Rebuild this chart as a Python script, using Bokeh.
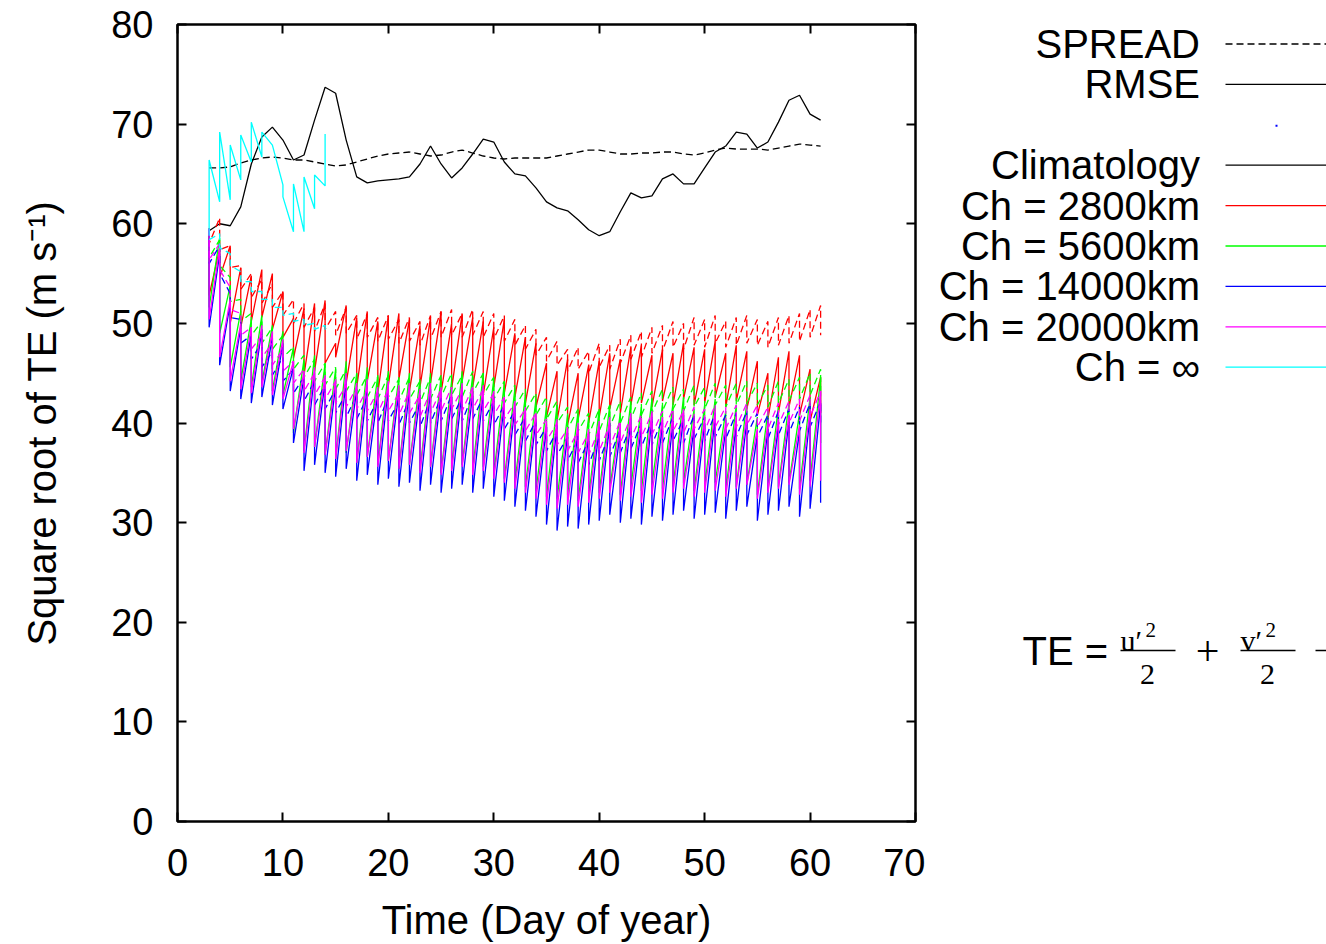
from bokeh.plotting import figure
from bokeh.layouts import row
from bokeh.models import Range1d, LinearAxis, FixedTicker
from bokeh.core.properties import value
from bokeh.embed import file_html
from bokeh.resources import INLINE

# ---------------- data ----------------
days = list(range(3, 62))          # day of year, one analysis per day
inf_days = list(range(3, 15))      # Ch = infinity run stops at day 14

x_ticks = [0, 10, 20, 30, 40, 50, 60, 70]
y_ticks = [0, 10, 20, 30, 40, 50, 60, 70, 80]

clim_rmse = [59.3, 60.0, 59.8, 61.7, 66.0, 68.7, 69.7, 68.4, 66.4, 66.9,
             70.4, 73.7, 73.1, 68.4, 64.7, 64.1, 64.3, 64.4, 64.5, 64.7,
             66.0, 67.8, 66.0, 64.6, 65.6, 67.0, 68.5, 68.2, 66.2, 65.0,
             64.8, 63.6, 62.2, 61.6, 61.3, 60.4, 59.4, 58.8, 59.2, 61.2,
             63.1, 62.6, 62.8, 64.5, 65.0, 64.0, 64.0, 65.6, 67.2, 67.8,
             69.2, 69.0, 67.6, 68.2, 70.2, 72.4, 72.9, 71.0, 70.4]
clim_spread = [65.6, 65.6, 65.7, 66.1, 66.4, 66.6, 66.7, 66.6, 66.4, 66.4,
               66.2, 66.0, 65.8, 65.9, 66.2, 66.5, 66.8, 67.0, 67.1, 67.2,
               67.0, 66.8, 66.9, 67.2, 67.4, 67.1, 66.8, 66.6, 66.5, 66.6,
               66.6, 66.6, 66.6, 66.8, 67.0, 67.2, 67.4, 67.4, 67.2, 67.0,
               67.0, 67.1, 67.1, 67.2, 67.2, 67.0, 66.9, 67.1, 67.4, 67.6,
               67.5, 67.5, 67.5, 67.4, 67.6, 67.8, 68.0, 67.9, 67.8]

# forecast (before analysis) and analysis values each day
red_rmse_f = [59.5, 57.5, 57.8, 55.6, 54.8, 55.4, 55.0, 53.2, 50.5, 51.5,
              52.0, 52.3, 48.0, 51.8, 50.6, 51.2, 50.2, 50.8, 51.0, 50.4,
              49.8, 50.6, 51.2, 50.0, 51.0, 50.6, 50.2, 49.6, 50.4, 49.0,
              48.6, 48.0, 46.0, 45.2, 46.4, 45.0, 45.8, 46.2, 47.0, 46.4,
              47.6, 47.8, 46.8, 47.4, 47.0, 48.0, 47.6, 47.4, 48.2, 47.0,
              47.8, 47.2, 46.2, 45.0, 46.6, 47.2, 46.8, 45.4, 44.6]
red_rmse_a = [52.8, 54.6, 50.0, 49.6, 50.2, 50.6, 49.4, 48.6, 46.5, 44.8,
              45.2, 46.0, 46.6, 44.0, 43.6, 44.2, 43.0, 43.8, 44.4, 43.2,
              43.6, 44.0, 43.0, 43.4, 44.2, 43.6, 42.8, 43.6, 43.0, 42.6,
              42.0, 41.6, 40.6, 40.2, 39.8, 40.4, 40.0, 40.6, 41.4, 41.0,
              41.8, 42.0, 41.6, 42.2, 41.8, 42.4, 41.8, 42.0, 42.6, 41.6,
              42.2, 41.4, 40.8, 40.4, 41.0, 41.6, 40.8, 40.2, 41.0]
red_spread_f = [59.5, 60.6, 57.8, 55.8, 55.0, 54.4, 54.0, 53.2, 52.4, 52.0,
                51.6, 52.0, 51.2, 51.6, 50.8, 51.0, 50.6, 50.8, 50.4, 50.6,
                50.2, 50.8, 51.2, 51.4, 51.0, 51.4, 51.2, 51.0, 50.8, 50.4,
                49.8, 49.4, 48.6, 48.2, 47.4, 47.6, 47.2, 48.0, 47.8, 48.4,
                48.8, 49.2, 49.6, 49.8, 50.2, 50.0, 50.6, 50.4, 50.8, 50.2,
                50.6, 50.8, 50.4, 50.2, 50.6, 50.8, 51.0, 51.4, 51.8]
red_spread_a = [58.0, 57.4, 55.6, 53.4, 52.6, 52.0, 51.6, 50.8, 50.0, 49.6,
                49.2, 49.4, 48.8, 49.0, 48.4, 48.6, 48.2, 48.4, 48.0, 48.2,
                47.8, 48.4, 48.6, 48.8, 48.6, 48.8, 48.6, 48.4, 48.2, 47.8,
                47.4, 46.8, 46.2, 45.8, 45.2, 45.4, 45.0, 45.6, 45.4, 46.0,
                46.4, 46.6, 47.0, 47.2, 47.6, 47.4, 47.8, 47.6, 48.0, 47.6,
                47.8, 48.0, 47.8, 47.6, 47.8, 48.0, 48.2, 48.6, 48.8]

green_rmse_f = [59.5, 58.6, 53.8, 51.2, 50.4, 50.8, 49.8, 49.2, 47.6, 46.4,
                46.8, 46.0, 45.4, 46.2, 45.0, 45.6, 44.8, 45.2, 44.6, 45.0,
                44.4, 45.0, 44.6, 44.2, 45.2, 44.8, 45.0, 44.4, 44.0, 43.4,
                42.8, 42.4, 41.6, 41.8, 40.8, 41.2, 40.6, 41.4, 41.8, 41.0,
                42.2, 41.6, 42.4, 41.8, 42.0, 42.6, 41.4, 41.8, 42.4, 41.2,
                41.8, 42.0, 40.6, 41.2, 41.6, 42.0, 41.0, 42.6, 44.6]
green_rmse_a = [51.6, 49.0, 45.6, 44.2, 43.6, 44.0, 43.2, 42.8, 39.0, 37.2,
                37.6, 36.8, 36.4, 37.0, 36.0, 36.6, 35.8, 36.2, 35.4, 35.8,
                35.2, 35.6, 35.0, 35.4, 35.8, 35.2, 35.6, 34.8, 34.4, 34.0,
                33.6, 33.2, 32.6, 32.4, 32.8, 32.2, 32.6, 33.0, 33.4, 32.8,
                33.6, 33.2, 33.8, 33.4, 33.6, 34.0, 33.2, 33.6, 34.0, 33.2,
                33.6, 33.8, 32.8, 33.2, 33.6, 34.0, 33.4, 34.2, 38.0]
green_spread_f = [59.5, 58.4, 54.6, 52.4, 51.0, 50.2, 49.6, 48.8, 47.6, 46.8,
                  46.4, 46.0, 45.6, 45.4, 45.0, 44.8, 44.6, 44.8, 44.4, 44.6,
                  44.2, 44.6, 44.8, 45.0, 44.8, 45.2, 45.0, 44.6, 44.2, 43.8,
                  43.4, 43.0, 42.6, 42.2, 41.6, 41.4, 41.0, 41.4, 41.8, 42.2,
                  42.6, 43.0, 43.2, 43.4, 43.6, 43.4, 43.8, 43.6, 44.0, 43.8,
                  44.0, 44.2, 44.0, 43.8, 44.2, 44.4, 44.6, 45.0, 45.4]
green_spread_a = [56.6, 55.8, 52.2, 50.2, 48.8, 48.0, 47.4, 46.6, 45.4, 44.6,
                  44.2, 43.8, 43.4, 43.2, 42.8, 42.6, 42.4, 42.6, 42.2, 42.4,
                  42.0, 42.4, 42.6, 42.8, 42.6, 43.0, 42.8, 42.4, 42.0, 41.6,
                  41.2, 40.8, 40.4, 40.0, 39.4, 39.2, 38.8, 39.2, 39.6, 40.0,
                  40.4, 40.8, 41.0, 41.2, 41.4, 41.2, 41.6, 41.4, 41.8, 41.6,
                  41.8, 42.0, 41.8, 41.6, 42.0, 42.2, 42.4, 42.8, 43.2]

blue_rmse_f = [59.5, 57.0, 52.0, 49.6, 49.0, 49.4, 48.6, 48.0, 45.6, 44.6,
               45.0, 44.2, 43.8, 44.4, 43.4, 43.8, 43.0, 43.6, 43.2, 43.4,
               42.8, 43.4, 43.0, 42.6, 43.4, 43.0, 43.2, 42.6, 42.0, 41.6,
               41.0, 40.4, 39.6, 39.8, 39.0, 39.4, 38.8, 39.6, 40.0, 39.2,
               40.4, 39.8, 40.6, 40.0, 40.2, 40.8, 39.6, 40.0, 40.6, 39.4,
               40.0, 40.2, 38.8, 39.4, 39.8, 40.2, 39.2, 40.8, 42.0]
blue_rmse_a = [49.6, 45.8, 43.2, 42.4, 42.0, 42.6, 41.8, 41.4, 38.0, 35.2,
               35.8, 35.0, 34.6, 35.4, 34.2, 34.8, 33.8, 34.4, 33.6, 34.0,
               33.2, 33.8, 33.0, 33.4, 33.8, 33.0, 33.4, 32.6, 32.2, 31.6,
               31.2, 30.6, 29.8, 29.2, 29.6, 29.4, 29.8, 30.2, 30.8, 30.0,
               30.4, 29.8, 30.6, 30.2, 30.8, 31.2, 30.4, 30.8, 31.0, 30.4,
               31.2, 31.6, 30.2, 30.8, 31.2, 31.6, 30.6, 31.4, 32.0]
blue_spread_f = [59.5, 57.8, 53.0, 50.4, 48.8, 48.0, 47.2, 46.6, 45.4, 44.6,
                 44.2, 43.8, 43.4, 43.0, 42.8, 42.6, 42.4, 42.6, 42.2, 42.4,
                 42.0, 42.4, 42.6, 42.8, 42.6, 42.8, 42.6, 42.2, 41.8, 41.2,
                 40.6, 40.2, 39.6, 39.2, 38.6, 38.4, 38.2, 38.6, 39.0, 39.4,
                 39.8, 40.0, 40.2, 40.4, 40.6, 40.4, 40.8, 40.6, 41.0, 40.8,
                 41.0, 41.2, 41.0, 40.8, 41.2, 41.4, 41.6, 42.0, 42.2]
blue_spread_a = [56.0, 55.0, 50.6, 48.0, 46.4, 45.6, 44.8, 44.2, 43.0, 42.2,
                 41.8, 41.4, 41.0, 40.6, 40.4, 40.2, 40.0, 40.2, 39.8, 40.0,
                 39.6, 40.0, 40.2, 40.4, 40.2, 40.4, 40.2, 39.8, 39.4, 38.8,
                 38.2, 37.8, 37.2, 36.8, 36.2, 36.0, 35.8, 36.2, 36.6, 37.0,
                 37.4, 37.6, 37.8, 38.0, 38.2, 38.0, 38.4, 38.2, 38.6, 38.4,
                 38.6, 38.8, 38.6, 38.4, 38.8, 39.0, 39.2, 39.6, 39.8]

magenta_rmse_f = [59.5, 57.6, 52.4, 50.0, 49.6, 49.8, 49.2, 48.4, 46.2, 45.2,
                  45.6, 44.8, 44.4, 45.0, 44.0, 44.4, 43.6, 44.2, 43.8, 44.0,
                  43.4, 44.0, 43.6, 43.2, 44.0, 43.6, 43.8, 43.2, 42.6, 42.2,
                  41.6, 41.0, 40.2, 40.4, 39.6, 40.0, 39.4, 40.2, 40.6, 39.8,
                  41.0, 40.4, 41.2, 40.6, 40.8, 41.4, 40.2, 40.6, 41.2, 40.0,
                  40.6, 40.8, 39.4, 40.0, 40.4, 40.8, 39.8, 41.4, 43.2]
magenta_rmse_a = [50.4, 46.6, 44.2, 43.4, 43.0, 43.6, 42.8, 42.4, 39.4, 37.0,
                  37.6, 36.8, 36.4, 37.2, 36.0, 36.6, 35.6, 36.2, 35.4, 35.8,
                  35.0, 35.6, 34.8, 35.2, 35.6, 34.8, 35.2, 34.4, 34.0, 33.4,
                  33.0, 32.4, 31.8, 31.4, 31.8, 31.6, 32.0, 32.4, 33.0, 32.2,
                  32.6, 32.0, 32.8, 32.4, 33.0, 33.4, 32.6, 33.0, 33.2, 32.6,
                  33.4, 33.8, 32.4, 33.0, 33.4, 33.8, 32.8, 33.6, 34.2]
magenta_spread_f = [59.5, 58.0, 53.6, 51.0, 49.6, 48.8, 48.0, 47.4, 46.2, 45.4,
                    45.0, 44.6, 44.2, 43.8, 43.6, 43.4, 43.2, 43.4, 43.0, 43.2,
                    42.8, 43.2, 43.4, 43.6, 43.4, 43.6, 43.4, 43.0, 42.6, 42.0,
                    41.4, 41.0, 40.4, 40.0, 39.4, 39.2, 39.0, 39.4, 39.8, 40.2,
                    40.6, 40.8, 41.0, 41.2, 41.4, 41.2, 41.6, 41.4, 41.8, 41.6,
                    41.8, 42.0, 41.8, 41.6, 42.0, 42.2, 42.4, 42.8, 43.2]
magenta_spread_a = [56.4, 55.4, 51.4, 48.8, 47.4, 46.6, 45.8, 45.2, 44.0, 43.2,
                    42.8, 42.4, 42.0, 41.6, 41.4, 41.2, 41.0, 41.2, 40.8, 41.0,
                    40.6, 41.0, 41.2, 41.4, 41.2, 41.4, 41.2, 40.8, 40.4, 39.8,
                    39.2, 38.8, 38.2, 37.8, 37.2, 37.0, 36.8, 37.2, 37.6, 38.0,
                    38.4, 38.6, 38.8, 39.0, 39.2, 39.0, 39.4, 39.2, 39.6, 39.4,
                    39.6, 39.8, 39.6, 39.4, 39.8, 40.0, 40.2, 40.6, 41.0]

inf_rmse_f = [59.5, 62.2, 62.4, 64.4, 66.2, 66.7, 67.9, 63.9, 59.2, 59.2, 61.5, 63.8]
inf_rmse_a = [66.4, 69.2, 67.9, 68.9, 70.2, 69.2, 67.9, 62.7, 64.0, 64.7, 64.9, 69.0]
inf_spread_f = [59.5, 59.0, 57.0, 55.2, 54.2, 53.2, 52.4, 51.6, 51.0, 50.4, 50.0, 49.8]
inf_spread_a = [58.4, 57.6, 55.8, 54.2, 53.2, 52.4, 51.6, 50.8, 50.2, 49.8, 49.4, 49.2]

legend_labels = ["SPREAD", "RMSE", "", "Climatology", "Ch = 2800km", "Ch = 5600km",
                 "Ch = 14000km", "Ch = 20000km", "Ch = \u221e"]
legend_colors = ["black", "black", None, "black", "#ff0000", "#00ff00",
                 "#0000ff", "#ff00ff", "#00ffff"]
legend_dashes = ["7 4", "solid", None, "solid", "solid", "solid", "solid", "solid", "solid"]

# ---------------- styling ----------------
FONT = "Liberation Sans"
SERIF = "Liberation Serif"
FS = "40px"
TICK_FS = "38px"
LW = 1.3
DASH = "7 4"


def sawtooth(dlist, f, a):
    xs, ys = [], []
    for d, fv, av in zip(dlist, f, a):
        xs += [d, d]
        ys += [fv, av]
    return xs, ys


p = figure(frame_width=738, frame_height=797,
           x_range=Range1d(0, 70), y_range=Range1d(0, 80),
           output_backend="svg", toolbar_location=None,
           min_border_left=177, min_border_top=24,
           min_border_right=10, min_border_bottom=123)
p.xgrid.grid_line_color = None
p.ygrid.grid_line_color = None
p.outline_line_color = "black"
p.outline_line_width = 2.5
p.outline_line_alpha = 1.0
p.background_fill_color = "white"
p.border_fill_color = "white"

p.add_layout(LinearAxis(), "right")
p.add_layout(LinearAxis(), "above")

bottom_ax = p.below[0]
left_ax = p.left[0]
right_ax = p.right[0]
top_ax = p.above[0]

for ax in (bottom_ax, top_ax):
    ax.ticker = FixedTicker(ticks=x_ticks)
for ax in (left_ax, right_ax):
    ax.ticker = FixedTicker(ticks=y_ticks)

for ax in (bottom_ax, left_ax, right_ax, top_ax):
    ax.axis_line_color = None
    ax.major_tick_in = 9
    ax.major_tick_out = 0
    ax.minor_tick_in = 0
    ax.minor_tick_out = 0
    ax.minor_tick_line_color = None
    ax.major_tick_line_color = "black"
    ax.major_tick_line_width = 2
    ax.major_label_text_font = FONT
    ax.major_label_text_font_size = TICK_FS
    ax.major_label_text_color = "black"

# mirrored axes: ticks only
right_ax.major_label_overrides = {t: "" for t in y_ticks}
top_ax.major_label_overrides = {t: "" for t in x_ticks}
right_ax.major_label_standoff = 0
top_ax.major_label_standoff = 0

bottom_ax.major_label_standoff = 27
left_ax.major_label_standoff = 24

bottom_ax.axis_label = "Time (Day of year)"
left_ax.axis_label = "Square root of TE (m s\u207b\u00b9)"
for ax in (bottom_ax, left_ax):
    ax.axis_label_text_font = FONT
    ax.axis_label_text_font_size = FS
    ax.axis_label_text_font_style = "normal"
    ax.axis_label_text_color = "black"
bottom_ax.axis_label_standoff = 19
left_ax.axis_label_standoff = 44

# climatology
p.line(days, clim_rmse, line_color="black", line_width=LW)
p.line(days, clim_spread, line_color="black", line_width=LW, line_dash=DASH)

series = [
    ("#ff0000", red_rmse_f, red_rmse_a, red_spread_f, red_spread_a, days),
    ("#00ff00", green_rmse_f, green_rmse_a, green_spread_f, green_spread_a, days),
    ("#0000ff", blue_rmse_f, blue_rmse_a, blue_spread_f, blue_spread_a, days),
    ("#ff00ff", magenta_rmse_f, magenta_rmse_a, magenta_spread_f, magenta_spread_a, days),
    ("#00ffff", inf_rmse_f, inf_rmse_a, inf_spread_f, inf_spread_a, inf_days),
]
for col, rf, ra, sf, sa, dl in series:
    xs, ys = sawtooth(dl, rf, ra)
    p.line(xs, ys, line_color=col, line_width=LW)
    xs, ys = sawtooth(dl, sf, sa)
    p.line(xs, ys, line_color=col, line_width=LW, line_dash=DASH)

# ---------------- key / annotation panel (page pixel coordinates) ----------------
X0, X1 = 925, 1326      # page x covered by this panel
Y_TOP, Y_BOT = 24, 821  # page y of the panel frame (same as the plot frame)
q = figure(frame_width=X1 - X0, frame_height=Y_BOT - Y_TOP,
           x_range=Range1d(X0, X1), y_range=Range1d(Y_BOT, Y_TOP),
           output_backend="svg", toolbar_location=None,
           x_axis_location=None, y_axis_location=None,
           min_border_left=0, min_border_right=0,
           min_border_top=24, min_border_bottom=123)
q.xgrid.grid_line_color = None
q.ygrid.grid_line_color = None
q.outline_line_color = None
q.background_fill_color = "white"
q.border_fill_color = "white"

row_y0 = 43.5
row_dy = 40.4
text_right = 1199.5
sample_x0 = 1225
for i, (lab, col, dash) in enumerate(zip(legend_labels, legend_colors, legend_dashes)):
    yy = row_y0 + i * row_dy
    if lab:
        q.text(x=[text_right], y=[yy], text=[lab], text_font=value(FONT),
               text_font_size=FS, text_align="right", text_baseline="middle",
               text_color="black")
    if col:
        q.line([sample_x0, X1], [yy, yy], line_color=col, line_width=LW,
               line_dash=dash)
    else:
        q.scatter([1276], [yy + 1], marker="square", size=2, fill_color="blue",
                  line_color=None)

# TE formula
BAR_Y = 650
q.text(x=[1022], y=[BAR_Y], text=["TE ="], text_font=value(FONT), text_font_size=FS,
       text_align="left", text_baseline="middle", text_color="black")
for xn, ch in ((1120, "u\u2032"), (1240, "v\u2032")):
    q.text(x=[xn], y=[BAR_Y - 10], text=[ch], text_font=value(SERIF), text_font_size="30px",
           text_align="left", text_baseline="alphabetic", text_color="black")
    q.text(x=[xn + 25], y=[BAR_Y - 21], text=["2"], text_font=value(SERIF),
           text_font_size="21px", text_align="left", text_baseline="alphabetic",
           text_color="black")
    q.line([xn, xn + 55], [BAR_Y, BAR_Y], line_color="black", line_width=1.5)
    q.text(x=[xn + 27], y=[BAR_Y + 24], text=["2"], text_font=value(SERIF),
           text_font_size="30px", text_align="center", text_baseline="alphabetic",
           text_color="black")
q.text(x=[1207], y=[BAR_Y], text=["+"], text_font=value(SERIF), text_font_size="42px",
       text_align="center", text_baseline="middle", text_color="black")
q.line([1315, X1], [BAR_Y, BAR_Y], line_color="black", line_width=1.5)

layout = row(p, q, spacing=0)
open("out.html", "w").write(file_html(layout, INLINE))
